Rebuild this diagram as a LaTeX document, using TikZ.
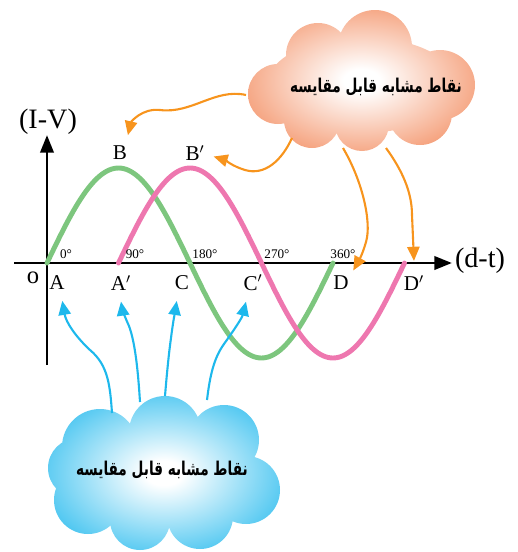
\documentclass[tikz,border=0pt]{standalone}
\usepackage{fontspec}
\usepackage{graphicx}
\setmainfont{Liberation Serif}
\newfontfamily\arabicfont[Script=Arabic]{DejaVu Sans}
\TeXXeTstate=1
\usetikzlibrary{arrows.meta,positioning,calc}
\definecolor{cg}{HTML}{7DC67E}
\definecolor{cp}{HTML}{EE77AF}
\definecolor{co}{HTML}{F7941D}
\definecolor{cb}{HTML}{1DB8EC}
\definecolor{cloudo}{HTML}{F38E62}
\definecolor{cloudb}{HTML}{2CBCEE}
\pgfdeclareradialshading{orangecloud}{\pgfpoint{0bp}{0bp}}{color(0bp)=(white); color(4bp)=(white); color(32bp)=(cloudo); color(72bp)=(cloudo)}
\pgfdeclareradialshading{bluecloud}{\pgfpoint{0bp}{0bp}}{color(0bp)=(white); color(4bp)=(white); color(32bp)=(cloudb); color(72bp)=(cloudb)}
\newcommand{\cloudtext}{\scalebox{0.72}[1]{\beginR نقاط مشابه قابل مقایسه\endR}}

\begin{document}
\begin{tikzpicture}[x=0.02cm,y=-0.02cm,
    axis/.style={line width=1.7pt,-{Triangle[length=10pt,width=7.5pt]}},
    wave/.style={line width=2.8pt,line cap=round},
    ptlab/.style={font=\fontsize{12}{12}\selectfont,inner sep=1pt},
    deg/.style={font=\fontsize{7.5}{8}\selectfont,inner sep=1pt},
    axlab/.style={font=\fontsize{16}{16}\selectfont,inner sep=1pt},
    oarr/.style={co,line width=1.2pt,-{Triangle[length=8pt,width=7pt]}},
    barr/.style={cb,line width=1.2pt,-{Triangle[length=8pt,width=7pt]}},
    cloudtxt/.style={font=\arabicfont\bfseries\fontsize{10.8}{12}\selectfont,inner sep=2pt},
  ]
  \useasboundingbox (0,0) rectangle (518,552);

  % clouds
  \shade[shading=orangecloud]
    (375,47) circle (37) (318,55) circle (32) (440,85) circle (35)
    (278,94) circle (30) (312,120) circle (28) (362,124) circle (27)
    (420,113) circle (32) (362,85) ellipse (95 and 48);
  \shade[shading=bluecloud]
    (100,447) circle (38) (165,432) circle (36) (224,440) circle (35)
    (246,490) circle (34) (200,516) circle (33) (140,520) circle (30)
    (88,500) circle (34) (78,468) circle (30) (165,475) ellipse (92 and 52);
  \node[cloudtxt] (ocl) at (376,87) {\cloudtext};
  \node[cloudtxt] (bcl) at (162,470) {\cloudtext};

  % axes
  \coordinate (ytop) at (47,135);
  \coordinate (xend) at (452,263);
  \draw[axis] (47,365) -- (ytop);
  \draw[axis] (14,263) -- (xend);
  \node[axlab] (ylab) at (48,122) {(I-V)};
  \node[axlab] (xlab) at (480,261) {(d-t)};
  \node[ptlab,font=\fontsize{14}{14}\selectfont] (o) at (33,278) {o};

  % sine waves
  \draw[wave,cg] plot[domain=0:360,samples=120] ({47+\x/360*286},{263-95*sin(\x)});
  \draw[wave,cp] plot[domain=0:360,samples=120] ({118.5+\x/360*286},{263-95*sin(\x)});

  % point labels
  \node[ptlab] (A)  at (57,283)  {A};
  \node[ptlab] (Ap) at (121,283) {A$'$};
  \node[ptlab] (C)  at (182,283) {C};
  \node[ptlab] (Cp) at (253,283) {C$'$};
  \node[ptlab] (D)  at (341,283) {D};
  \node[ptlab] (Dp) at (414,283) {D$'$};
  \node[ptlab] (B)  at (120,153) {B};
  \node[ptlab] (Bp) at (195,153) {B$'$};
  \node[deg] (d0)   at (66,254)  {0°};
  \node[deg] (d90)  at (135,254) {90°};
  \node[deg] (d180) at (205,254) {180°};
  \node[deg] (d270) at (277,254) {270°};
  \node[deg] (d360) at (343,254) {360°};

  % orange arrows
  \coordinate (o1) at (246,95);
  \coordinate (o2) at (292,138);
  \coordinate (o3) at (343,148);
  \coordinate (o4) at (386,148);
  \draw[oarr] (o1) .. controls (215,88) and (192,114) .. (160,110)
    .. controls (142,108) and (131,122) .. ([xshift=4.5pt,yshift=5pt]B.north);
  \draw[oarr] (o2) .. controls (282,160) and (265,176) .. (245,170)
    .. controls (232,166) and (225,160) .. ([xshift=4pt,yshift=-2pt]Bp.east);
  \draw[oarr] (o3) .. controls (362,180) and (372,222) .. (366,242)
    .. controls (362,256) and (358,262) .. ([xshift=7pt,yshift=2pt]D.north);
  \draw[oarr] (o4) .. controls (402,170) and (412,192) .. (412,215)
    -- ([yshift=7pt]Dp.north);

  % blue arrows
  \coordinate (b1) at (112,413);
  \coordinate (b2) at (140,402);
  \coordinate (b3) at (165,396);
  \coordinate (b4) at (207,400);
  \draw[barr] (b1) .. controls (110,385) and (108,365) .. (90,350)
    .. controls (75,336) and (66,322) .. ([xshift=3pt,yshift=-5pt]A.south);
  \draw[barr] (b2) .. controls (138,370) and (135,342) .. (129,326)
    .. controls (124,315) and (122,308) .. ([yshift=-5pt]Ap.south);
  \draw[barr] (b3) .. controls (167,372) and (169,352) .. (171,338)
    .. controls (173,322) and (175,312) .. ([xshift=-3pt,yshift=-5pt]C.south);
  \draw[barr] (b4) .. controls (210,375) and (214,358) .. (224,344)
    .. controls (234,330) and (242,318) .. ([xshift=-4pt,yshift=-5pt]Cp.south);
\end{tikzpicture}
\end{document}
